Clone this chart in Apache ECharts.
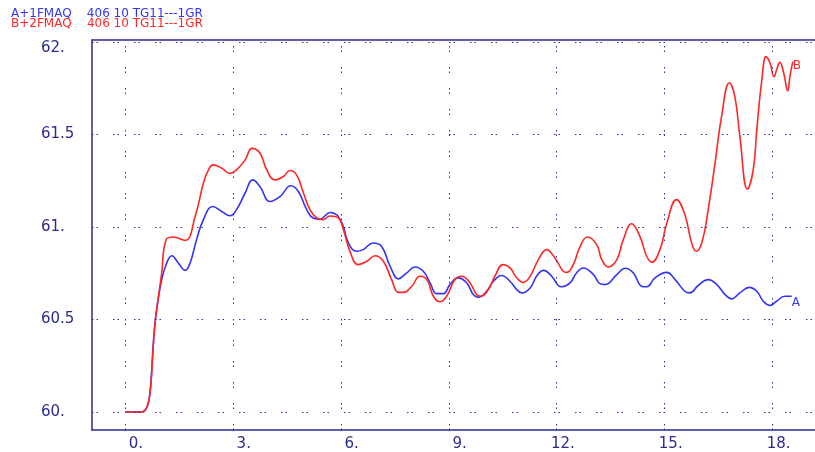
<!DOCTYPE html>
<html><head><meta charset="utf-8">
<script src="https://cdn.jsdelivr.net/npm/echarts@6/dist/echarts.min.js"></script>
<style>html,body{margin:0;padding:0;background:#fff}#c{width:815px;height:452px}</style>
</head><body><div id="c"></div>
<script>
// Series A (blue)
const seriesAx = [0,0.47,0.88,1.02,1.16,1.30,1.48,1.67,1.81,1.99,2.18,2.44,2.69,2.92,3.10,3.34,3.55,3.75,4.03,4.31,4.61,4.82,5.05,5.23,5.42,5.70,5.88,5.98,6.07,6.21,6.44,6.62,6.90,7.13,7.37,7.60,7.83,8.06,8.29,8.48,8.66,8.85,9.03,9.26,9.50,9.68,9.82,10.05,10.24,10.47,10.70,10.89,11.03,11.26,11.44,11.63,11.86,12.04,12.14,12.37,12.55,12.74,13.02,13.20,13.34,13.67,13.90,14.13,14.36,14.50,14.73,15.06,15.29,15.56,15.70,15.93,16.21,16.45,16.68,16.86,17.09,17.35,17.56,17.74,17.93,18.11,18.34,18.53];
const seriesAy = [60.0,60.0,60.554,60.716,60.806,60.845,60.806,60.766,60.806,60.932,61.04,61.111,61.084,61.061,61.094,61.184,61.255,61.219,61.138,61.165,61.223,61.192,61.094,61.049,61.043,61.079,61.067,61.04,61.003,60.914,60.869,60.878,60.914,60.896,60.788,60.72,60.752,60.784,60.761,60.698,60.64,60.64,60.689,60.725,60.698,60.635,60.62,60.653,60.707,60.738,60.707,60.662,60.644,60.671,60.734,60.766,60.734,60.684,60.677,60.698,60.752,60.779,60.743,60.694,60.689,60.743,60.777,60.752,60.68,60.677,60.725,60.755,60.716,60.653,60.644,60.684,60.716,60.689,60.635,60.612,60.644,60.674,60.653,60.599,60.576,60.599,60.626,60.626];
// Series B (red)
const seriesBx = [0,0.47,0.88,1.02,1.14,1.34,1.67,1.95,2.18,2.32,2.45,2.69,2.92,3.10,3.34,3.53,3.75,3.94,4.17,4.40,4.59,4.77,4.96,5.14,5.33,5.51,5.70,5.93,6.07,6.25,6.48,6.72,6.95,7.18,7.41,7.60,7.74,7.97,8.20,8.39,8.57,8.75,8.94,9.17,9.36,9.59,9.77,9.89,10.10,10.28,10.51,10.70,10.89,11.07,11.26,11.49,11.72,11.95,12.18,12.28,12.46,12.65,12.85,13.11,13.25,13.43,13.67,13.85,14.08,14.31,14.50,14.64,14.87,15.06,15.33,15.56,15.75,15.87,16.03,16.21,16.40,16.58,16.80,16.95,17.09,17.30,17.46,17.56,17.70,17.82,17.93,18.04,18.11,18.20,18.31,18.42,18.48,18.56];
const seriesBy = [60.0,60.0,60.554,60.752,60.93,60.946,60.928,61.057,61.238,61.309,61.336,61.318,61.29,61.309,61.363,61.425,61.40,61.309,61.255,61.273,61.306,61.282,61.184,61.094,61.049,61.04,61.06,61.049,60.986,60.87,60.797,60.815,60.845,60.815,60.716,60.647,60.647,60.68,60.734,60.716,60.626,60.596,60.626,60.716,60.734,60.698,60.635,60.626,60.662,60.734,60.797,60.779,60.725,60.701,60.734,60.824,60.878,60.833,60.761,60.755,60.797,60.896,60.946,60.905,60.824,60.784,60.824,60.932,61.018,60.95,60.842,60.81,60.878,61.022,61.148,61.067,60.914,60.869,60.914,61.094,61.346,61.597,61.78,61.705,61.489,61.205,61.309,61.525,61.795,61.921,61.885,61.813,61.849,61.89,61.831,61.736,61.813,61.894];
// Ticks
const xTicks = [0,3,6,9,12,15,18];
const xTickLabels = ['0.','3.','6.','9.','12.','15.','18.'];
const yTicks = [60,60.5,61,61.5,62];
const yTickLabels = ['60.','60.5','61.','61.5','62.'];
const legendA = 'A+1FMAQ    406 10 TG11---1GR';
const legendB = 'B+2FMAQ    406 10 TG11---1GR';

const BLUE = '#3434f4', RED = '#ff2626', NAVY = '#2c2c8c', GRIDC = '#2e2e90';
const FONT = 'DejaVu Sans';
const XMIN = -0.917, XMAX = 19.178;
const zip = (xs, ys) => xs.map((x, i) => [x, ys[i]]);

const chart = echarts.init(document.getElementById('c'), null, {renderer: 'canvas'});
chart.setOption({
  animation: false,
  backgroundColor: '#fff',
  title: [
    {text: legendA, left: 11, top: 8, padding: 0, textStyle: {color: BLUE, fontSize: 12, fontWeight: 'normal', fontFamily: FONT}},
    {text: legendB, left: 11, top: 18, padding: 0, textStyle: {color: RED, fontSize: 12, fontWeight: 'normal', fontFamily: FONT}}
  ],
  grid: {left: 92, top: 40, right: 0, bottom: 21, show: false},
  xAxis: [{
    type: 'value', min: XMIN, max: XMAX, position: 'bottom',
    axisLine: {show: true, onZero: false, lineStyle: {color: NAVY, width: 1.5}},
    axisTick: {show: false},
    splitLine: {show: false},
    axisLabel: {
      customValues: xTicks, margin: 7, color: NAVY, fontSize: 15, fontFamily: FONT,
      align: 'right', padding: [0, -18, 0, 0],
      formatter: v => xTickLabels[xTicks.indexOf(v)] ?? ''
    }
  }, {
    type: 'value', min: XMIN, max: XMAX, position: 'top',
    axisLine: {show: true, onZero: false, lineStyle: {color: NAVY, width: 1.5}},
    axisTick: {show: false}, axisLabel: {show: false}, splitLine: {show: false}
  }],
  yAxis: {
    type: 'value', min: 59.903, max: 62.011,
    axisLine: {show: true, onZero: false, lineStyle: {color: NAVY, width: 1.5}},
    axisTick: {show: false},
    splitLine: {show: false},
    axisLabel: {
      customValues: yTicks, margin: 51, align: 'left', color: NAVY, fontSize: 15, fontFamily: FONT,
      formatter: v => { const i = yTicks.indexOf(v); if (i < 0) return ''; return v === 62 ? '{t|' + yTickLabels[i] + '}' : yTickLabels[i]; },
      rich: {t: {color: NAVY, fontSize: 15, fontFamily: FONT, padding: [12, 0, 0, 0]}}
    }
  },
  series: [
    {
      name: 'grid', type: 'line', data: [], silent: true,
      markLine: {
        silent: true, symbol: 'none', animation: false, label: {show: false},
        lineStyle: {color: GRIDC, width: 1, type: [1.5, 3, 1.5, 15]},
        emphasis: {disabled: true},
        data: yTicks.map(v => ({yAxis: v})).concat(xTicks.map(v => ({xAxis: v})))
      }
    },
    {
      name: 'A', type: 'line', data: zip(seriesAx, seriesAy), showSymbol: false,
      smooth: 0.45, z: 3,
      lineStyle: {color: BLUE, width: 1.6},
      endLabel: {show: true, formatter: 'A', color: BLUE, fontSize: 12, fontFamily: FONT, distance: 0, offset: [0, 7]}
    },
    {
      name: 'B', type: 'line', data: zip(seriesBx, seriesBy), showSymbol: false,
      smooth: 0.45, z: 4,
      lineStyle: {color: RED, width: 1.6},
      endLabel: {show: true, formatter: 'B', color: RED, fontSize: 12, fontFamily: FONT, distance: 0, offset: [0, 4]}
    }
  ]
});
</script></body></html>
